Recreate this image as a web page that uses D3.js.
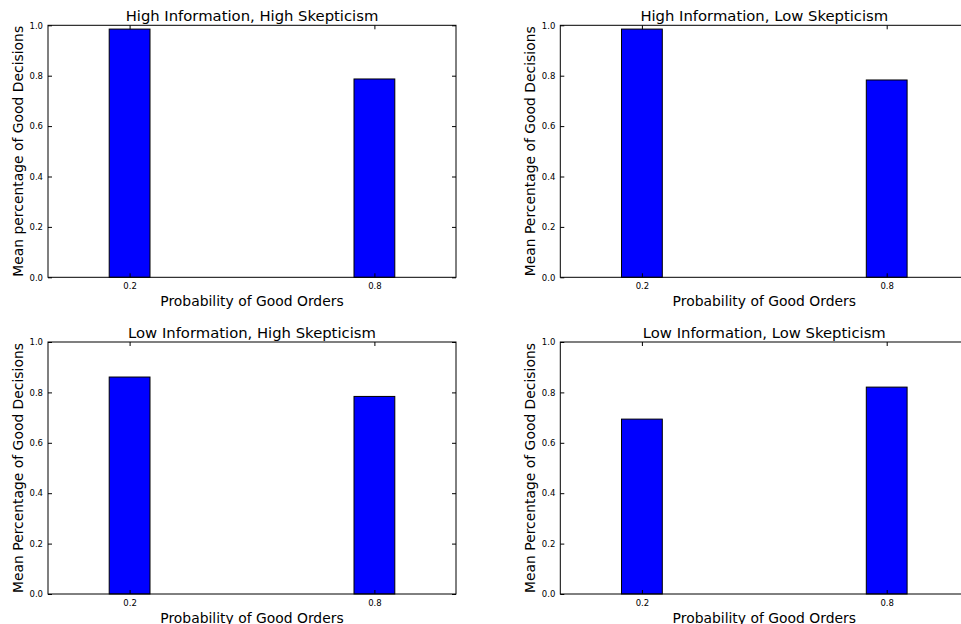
<!DOCTYPE html>
<html>
<head>
<meta charset="utf-8">
<script src="https://cdn.jsdelivr.net/npm/d3@7/dist/d3.min.js"></script>
<style>
  html, body { margin: 0; padding: 0; background: #fff; }
  svg { display: block; }
  text { font-family: "DejaVu Sans", sans-serif; fill: #000; }
</style>
</head>
<body>
<svg id="chart" width="961" height="624"></svg>
<script>
// Data
const categories = [0.2, 0.8];
const titles = [
  "High Information, High Skepticism",
  "High Information, Low Skepticism",
  "Low Information, High Skepticism",
  "Low Information, Low Skepticism"
];
const yLabels = [
  "Mean percentage of Good Decisions",
  "Mean Percentage of Good Decisions",
  "Mean Percentage of Good Decisions",
  "Mean Percentage of Good Decisions"
];
const xLabel = "Probability of Good Orders";
const valuesHIHS = [0.985, 0.787];
const valuesHILS = [0.985, 0.783];
const valuesLIHS = [0.861, 0.784];
const valuesLILS = [0.694, 0.821];
const seriesList = [valuesHIHS, valuesHILS, valuesLIHS, valuesLILS];
const yTicks = [0.0, 0.2, 0.4, 0.6, 0.8, 1.0];
const xTickLabels = ["0.2", "0.8"];
const barWidth = 0.1;

const svg = d3.select("#chart");
const W = 408, H = 252;
const origins = [[48, 25.3], [560.3, 25.3], [48, 342], [560.3, 342]];

seriesList.forEach((vals, i) => {
  const [ox, oy] = origins[i];
  const g = svg.append("g").attr("transform", `translate(${ox},${oy})`);
  const x = d3.scaleLinear().domain([0, 1]).range([0, W]);
  const y = d3.scaleLinear().domain([0, 1]).range([H, 0]);

  // bars
  g.selectAll("rect.bar").data(vals).enter().append("rect")
    .attr("class", "bar")
    .attr("x", (d, j) => x(categories[j] - barWidth / 2))
    .attr("width", (d, j) => x(categories[j] + barWidth / 2) - x(categories[j] - barWidth / 2))
    .attr("y", d => y(d))
    .attr("height", d => y(0) - y(d))
    .attr("fill", "#0000ff")
    .attr("stroke", "#000")
    .attr("stroke-width", 1);

  // axes
  const tickLen = 4;
  const fmt = d3.format(".1f");
  const left = g.append("g").call(d3.axisLeft(y).tickValues(yTicks).tickFormat(fmt).tickSizeInner(-tickLen).tickSizeOuter(0).tickPadding(5));
  const right = g.append("g").attr("transform", `translate(${W},0)`).call(d3.axisRight(y).tickValues(yTicks).tickFormat("").tickSizeInner(-tickLen).tickSizeOuter(0));
  const bottom = g.append("g").attr("transform", `translate(0,${H})`).call(d3.axisBottom(x).tickValues(categories).tickFormat((d, j) => xTickLabels[j]).tickSizeInner(-tickLen).tickSizeOuter(0).tickPadding(6));
  const top = g.append("g").call(d3.axisTop(x).tickValues(categories).tickFormat("").tickSizeInner(-tickLen).tickSizeOuter(0));
  [left, right, bottom, top].forEach(a => {
    a.select(".domain").remove();
    a.selectAll("line").attr("stroke", "#000");
    a.selectAll("text").style("font-size", "8.5px").style("font-family", "DejaVu Sans, sans-serif").attr("fill", "#222");
  });

  // frame
  g.append("rect").attr("x", 0).attr("y", 0).attr("width", W).attr("height", H)
    .attr("fill", "none").attr("stroke", "#000").attr("stroke-width", 1);

  // title
  g.append("text").attr("x", W / 2).attr("y", -4.5).attr("text-anchor", "middle")
    .style("font-size", "14.8px").text(titles[i]);
  // x label
  g.append("text").attr("x", W / 2).attr("y", H + 28.5).attr("text-anchor", "middle")
    .style("font-size", "13.9px").text(xLabel);
  // y label
  g.append("text").attr("transform", `translate(-25,${H / 2}) rotate(-90)`).attr("text-anchor", "middle")
    .style("font-size", "13.9px").text(yLabels[i]);
});
</script>
</body>
</html>
